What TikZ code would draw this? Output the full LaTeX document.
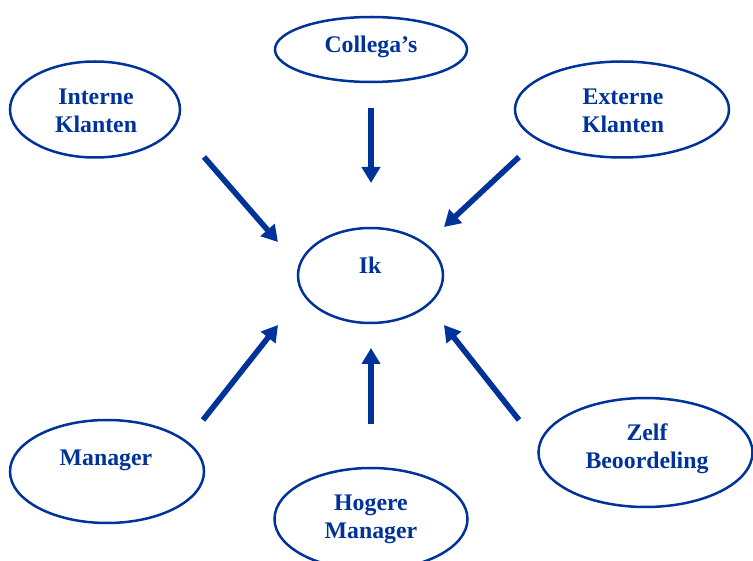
\documentclass[tikz,border=0pt]{standalone}
\usepackage{fontspec}
\setmainfont{Liberation Serif}
\usetikzlibrary{shapes.geometric,arrows.meta}
\definecolor{navy}{RGB}{0,51,153}
\tikzset{
  oval/.style={ellipse, draw=navy, line width=2.5pt, inner sep=0pt},
  lbl/.style={text=navy, font=\fontsize{23.8}{28}\selectfont\bfseries, align=center, inner sep=0pt},
  arr/.style={draw=navy, line width=5.6pt, -{Triangle[length=16pt,width=18pt]}}
}
\begin{document}
\begin{tikzpicture}[x=1pt,y=-1pt]
\useasboundingbox (0,0) rectangle (753,561);
% ellipses
\node[oval, minimum width=192pt, minimum height=65pt] (col) at (371,49.5) {};
\node[oval, minimum width=170pt, minimum height=96pt] (ink) at (95,109.5) {};
\node[oval, minimum width=214pt, minimum height=96pt] (exk) at (622,109.5) {};
\node[oval, minimum width=145pt, minimum height=95pt] (ik) at (370.5,275.5) {};
\node[oval, minimum width=194pt, minimum height=103pt] (man) at (107,471.5) {};
\node[oval, minimum width=193pt, minimum height=102pt] (hog) at (371,519) {};
\node[oval, minimum width=214pt, minimum height=109pt] (zelf) at (645.5,452.5) {};
% labels
\node[lbl] (colt) at (371,47) {Collega’s};
\node[lbl] (inkt) at (96,111) {Interne\\Klanten};
\node[lbl] (exkt) at (623,111) {Externe\\Klanten};
\node[lbl] (ikt) at (370,265) {Ik};
\node[lbl] (mant) at (106,460) {Manager};
\node[lbl] (hogt) at (371,519) {Hogere\\Manager};
\node[lbl] (zelft) at (647,449) {Zelf\\Beoordeling};
% arrow endpoints
\coordinate (a1s) at (204,157); \coordinate (a1e) at (278,242);
\coordinate (a2s) at (371,108); \coordinate (a2e) at (371,183);
\coordinate (a3s) at (519,157); \coordinate (a3e) at (444,227);
\coordinate (a4s) at (203,420); \coordinate (a4e) at (278,325);
\coordinate (a5s) at (371,424); \coordinate (a5e) at (371,348);
\coordinate (a6s) at (519,420); \coordinate (a6e) at (444,325);
\draw[arr] (a1s) -- (a1e);
\draw[arr] (a2s) -- (a2e);
\draw[arr] (a3s) -- (a3e);
\draw[arr] (a4s) -- (a4e);
\draw[arr] (a5s) -- (a5e);
\draw[arr] (a6s) -- (a6e);
\end{tikzpicture}
\end{document}
